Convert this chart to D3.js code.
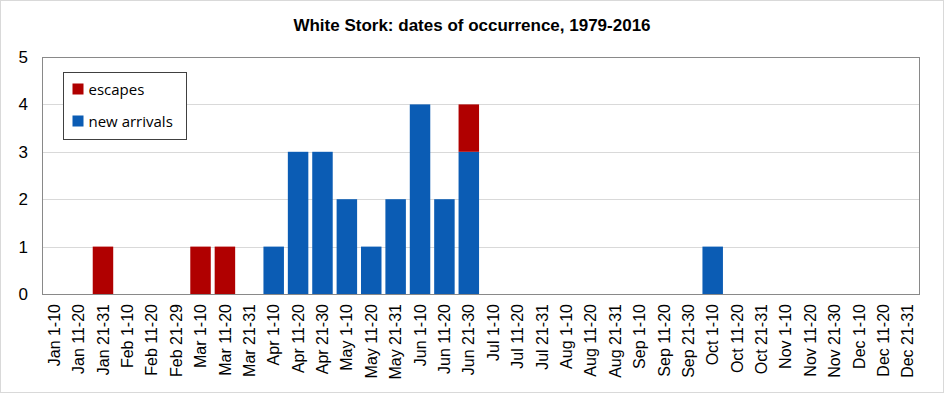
<!DOCTYPE html>
<html>
<head>
<meta charset="utf-8">
<script src="https://cdn.jsdelivr.net/npm/d3@7"></script>
<style>
  body { margin: 0; background: #fff; }
  svg { display: block; font-family: "Liberation Sans", Arial, sans-serif; }
</style>
</head>
<body>
<svg id="chart" width="945" height="394"></svg>
<script>
// categories (ten-day periods)
const periods = [
  "Jan 1-10", "Jan 11-20", "Jan 21-31", "Feb 1-10", "Feb 11-20", "Feb 21-29",
  "Mar 1-10", "Mar 11-20", "Mar 21-31", "Apr 1-10", "Apr 11-20", "Apr 21-30",
  "May 1-10", "May 11-20", "May 21-31", "Jun 1-10", "Jun 11-20", "Jun 21-30",
  "Jul 1-10", "Jul 11-20", "Jul 21-31", "Aug 1-10", "Aug 11-20", "Aug 21-31",
  "Sep 1-10", "Sep 11-20", "Sep 21-30", "Oct 1-10", "Oct 11-20", "Oct 21-31",
  "Nov 1-10", "Nov 11-20", "Nov 21-30", "Dec 1-10", "Dec 11-20", "Dec 21-31"
];

// series values
const newArrivals = [0,0,0,0,0,0, 0,0,0,1,3,3, 2,1,2,4,2,3, 0,0,0,0,0,0, 0,0,0,1,0,0, 0,0,0,0,0,0];
const escapes     = [0,0,1,0,0,0, 1,1,0,0,0,0, 0,0,0,0,0,1, 0,0,0,0,0,0, 0,0,0,0,0,0, 0,0,0,0,0,0];

const yTicks = [0, 1, 2, 3, 4, 5];

const seriesKeys = ["new arrivals", "escapes"];
const colors = { "new arrivals": "#0b5cb4", "escapes": "#b00000" };

const data = periods.map((p, i) => ({
  period: p,
  "new arrivals": newArrivals[i],
  "escapes": escapes[i]
}));

const svg = d3.select("#chart");
const W = 945, H = 394;
const margin = { top: 57, right: 25, bottom: 100, left: 42 },
      width = W - margin.left - margin.right,
      height = H - margin.top - margin.bottom;

// outer border
svg.append("rect")
  .attr("x", 0.5).attr("y", 0.5)
  .attr("width", W - 2).attr("height", H - 2)
  .attr("fill", "#fff")
  .attr("stroke", "#d9d9d9");

// title
svg.append("text")
  .attr("x", 472)
  .attr("y", 31)
  .attr("text-anchor", "middle")
  .attr("font-size", 17)
  .attr("font-weight", "bold")
  .text("White Stork: dates of occurrence, 1979-2016");

const g = svg.append("g")
  .attr("transform", `translate(${margin.left},${margin.top})`);

const x = d3.scaleBand()
  .domain(periods)
  .range([0, width])
  .paddingInner(0.16)
  .paddingOuter(0.08);

const y = d3.scaleLinear()
  .domain([0, 5])
  .range([height, 0]);

// gridlines
g.append("g")
  .selectAll("line")
  .data(yTicks.filter(d => d > 0))
  .join("line")
    .attr("x1", 0)
    .attr("x2", width)
    .attr("y1", d => Math.round(y(d)) + 0.5)
    .attr("y2", d => Math.round(y(d)) + 0.5)
    .attr("stroke", "#d9d9d9");

// stacked bars
const stack = d3.stack().keys(seriesKeys)(data);

g.append("g")
  .selectAll("g")
  .data(stack)
  .join("g")
    .attr("fill", d => colors[d.key])
  .selectAll("rect")
  .data(d => d)
  .join("rect")
    .attr("x", d => x(d.data.period))
    .attr("y", d => y(d[1]))
    .attr("width", x.bandwidth())
    .attr("height", d => y(d[0]) - y(d[1]));

// plot frame
g.append("rect")
  .attr("x", 0.5).attr("y", 0.5)
  .attr("width", width - 1).attr("height", height)
  .attr("fill", "none")
  .attr("stroke", "#898989");

// y axis
const yAxis = g.append("g")
  .call(d3.axisLeft(y).tickValues(yTicks).tickSize(0).tickPadding(14).tickFormat(d3.format("d")));
yAxis.select(".domain").remove();
yAxis.selectAll("text")
  .attr("font-size", 17)
  .attr("font-family", "Liberation Sans, Arial, sans-serif")
  .attr("fill", "#000");

// x axis
const xAxis = g.append("g")
  .attr("transform", `translate(0,${height})`)
  .call(d3.axisBottom(x).tickSize(0).tickPadding(0));
xAxis.select(".domain").remove();
xAxis.selectAll("text")
  .attr("font-size", 16)
  .attr("font-family", "Liberation Sans, Arial, sans-serif")
  .attr("fill", "#000")
  .attr("text-anchor", "end")
  .attr("dy", "0.35em")
  .attr("transform", "translate(0,10) rotate(-90)")
  .attr("x", 0)
  .attr("y", 0);

// legend
const legend = svg.append("g")
  .attr("transform", "translate(63.5,72.5)");

legend.append("rect")
  .attr("width", 123)
  .attr("height", 67)
  .attr("fill", "#fff")
  .attr("stroke", "#404040");

const legendItems = legend.selectAll("g.item")
  .data(["escapes", "new arrivals"])
  .join("g")
    .attr("class", "item")
    .attr("transform", (d, i) => `translate(9,${17 + i * 32})`);

legendItems.append("rect")
  .attr("y", -6)
  .attr("width", 11)
  .attr("height", 11)
  .attr("fill", d => colors[d]);

legendItems.append("text")
  .attr("x", 16)
  .attr("y", 0)
  .attr("dy", "0.35em")
  .attr("font-size", 15)
  .attr("font-family", "Open Sans, sans-serif")
  .text(d => d);
</script>
</body>
</html>
